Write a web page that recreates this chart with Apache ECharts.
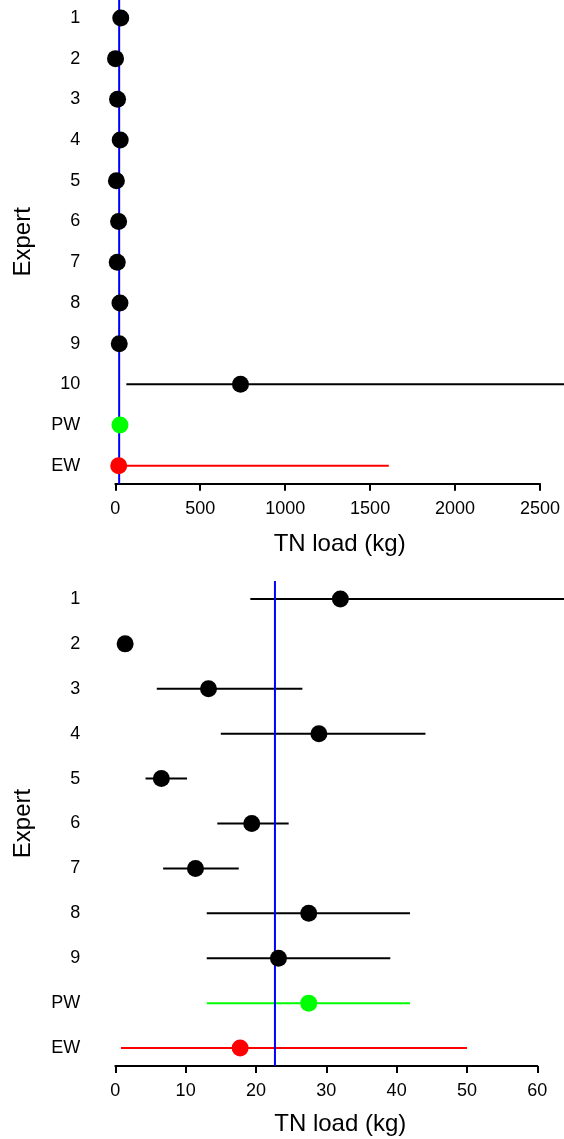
<!DOCTYPE html>
<html>
<head>
<meta charset="utf-8">
<script src="https://cdn.jsdelivr.net/npm/echarts@6/dist/echarts.min.js"></script>
<style>
html,body{margin:0;padding:0;background:#fff;}
#chart{width:564px;height:1139px;}
</style>
</head>
<body>
<div id="chart"></div>
<script>
// ---- data ----
const categoriesTop = ['1','2','3','4','5','6','7','8','9','10','PW','EW'];
const meanTop = [32.0, 1.4, 13.25, 28.95, 6.55, 19.4, 11.4, 27.5, 23.2, 737, 27.5, 20];
const lowTop  = [19.2, 0.9, 5.9, 15.0, 4.3, 14.5, 6.8, 13.0, 13.0, 65, 13.0, 1];
const highTop = [70, 2.0, 26.6, 44.1, 10.2, 24.65, 17.55, 41.9, 39.1, 3500, 41.9, 1610];
const xTicksTop = [0, 500, 1000, 1500, 2000, 2500];

const categoriesBottom = ['1','2','3','4','5','6','7','8','9','PW','EW'];
const meanBottom = [32.0, 1.4, 13.25, 28.95, 6.55, 19.4, 11.4, 27.5, 23.2, 27.5, 17.75];
const lowBottom  = [19.2, 0.9, 5.9, 15.0, 4.3, 14.5, 6.8, 13.0, 13.0, 13.0, 0.8];
const highBottom = [70, 2.0, 26.6, 44.1, 10.2, 24.65, 17.55, 41.9, 39.1, 41.9, 50.0];
const xTicksBottom = [0, 10, 20, 30, 40, 50, 60];

const referenceLine = 22.7;

// ---- styles ----
const FONT = 'Liberation Sans, Arial, sans-serif';
function colorFor(cat){
  if (cat === 'PW') return '#00ff00';
  if (cat === 'EW') return '#ff0000';
  return '#000000';
}

const chart = echarts.init(document.getElementById('chart'), null, {renderer:'canvas'});

function makeX(gridIndex, ticks, gap, shift){
  return {
    type:'value', gridIndex,
    min: ticks[0], max: ticks[ticks.length-1],
    interval: ticks[1]-ticks[0],
    name:'TN load (kg)', nameLocation:'middle', nameGap:gap,
    nameTextStyle:{fontFamily:FONT, fontSize:24, color:'#000', padding:[0,0,0,shift]},
    axisLine:{show:true, lineStyle:{color:'#000', width:2}},
    axisTick:{show:true, inside:false, length:7, lineStyle:{color:'#000', width:2}},
    axisLabel:{fontFamily:FONT, fontSize:18, color:'#000', margin:16,
      showMinLabel:true, showMaxLabel:true, hideOverlap:false,
      formatter: v => String(v)},
    splitLine:{show:false}
  };
}
function makeY(gridIndex, cats, pad){
  return {
    type:'value', gridIndex, inverse:true,
    min: 1 - pad, max: cats.length + pad,
    name:'Expert', nameLocation:'middle', nameGap:80, nameRotate:90,
    nameTextStyle:{fontFamily:FONT, fontSize:24, color:'#000'},
    axisLine:{show:false}, axisTick:{show:false}, splitLine:{show:false},
    axisLabel:{
      fontFamily:FONT, fontSize:18, color:'#000', margin:35,
      customValues: cats.map((c,i)=>i+1),
      formatter: v => cats[Math.round(v)-1] || ''
    }
  };
}
function whiskers(idx, cats, lo, hi){
  return {
    type:'custom', xAxisIndex:idx, yAxisIndex:idx, clip:false, z:2,
    data: cats.map((c,i)=>[lo[i], hi[i], i+1]),
    encode:{x:[0,1], y:2},
    renderItem:(params, api)=>{
      const a = api.coord([api.value(0), api.value(2)]);
      const b = api.coord([api.value(1), api.value(2)]);
      return {type:'line', shape:{x1:a[0], y1:a[1], x2:b[0], y2:b[1]},
        style:{stroke: colorFor(cats[params.dataIndex]), lineWidth:2}};
    }
  };
}
function refLine(idx){
  return {
    type:'custom', xAxisIndex:idx, yAxisIndex:idx, clip:false, z:3,
    data:[[referenceLine, 1]],
    encode:{x:0, y:1},
    renderItem:(params, api)=>{
      const p = api.coord([api.value(0), api.value(1)]);
      const cs = params.coordSys;
      return {type:'line', shape:{x1:p[0], y1:Math.max(cs.y,0), x2:p[0], y2:cs.y+cs.height},
        style:{stroke:'#0000ff', lineWidth:2}};
    }
  };
}
function dots(idx, cats, mean){
  return {
    type:'scatter', xAxisIndex:idx, yAxisIndex:idx, clip:false, z:6,
    symbolSize:17,
    data: cats.map((c,i)=>({value:[mean[i], i+1], itemStyle:{color: colorFor(c), opacity:1}}))
  };
}

const option = {
  backgroundColor:'#fff',
  animation:false,
  grid:[
    {left:115.3, right:24, top:-1.3, height:485},
    {left:115.3, right:26.7, top:581, height:485}
  ],
  xAxis:[makeX(0, xTicksTop, 49, 24), makeX(1, xTicksBottom, 46, 28)],
  yAxis:[makeY(0, categoriesTop, 0.44), makeY(1, categoriesBottom, 0.4)],
  series:[
    whiskers(0, categoriesTop, lowTop, highTop),
    refLine(0),
    dots(0, categoriesTop, meanTop),
    whiskers(1, categoriesBottom, lowBottom, highBottom),
    refLine(1),
    dots(1, categoriesBottom, meanBottom)
  ]
};
chart.setOption(option);
</script>
</body>
</html>
